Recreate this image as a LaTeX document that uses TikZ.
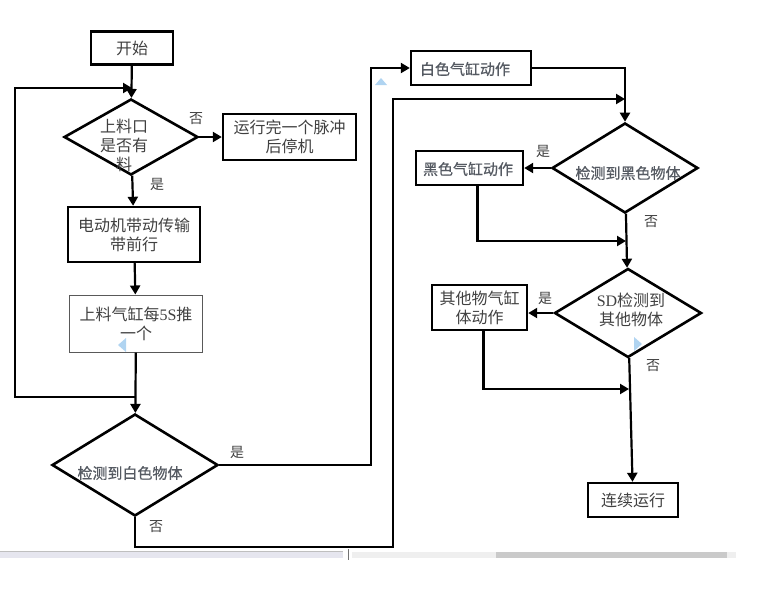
\documentclass[tikz,border=0pt]{standalone}
\usepackage{fontspec}
\newfontfamily\cjk{Noto Sans CJK SC}
\newfontfamily\cjkm[FakeBold=0.8]{Noto Sans CJK SC}
\newfontfamily\lat{Liberation Serif}
\usetikzlibrary{shapes.geometric,arrows.meta}
\definecolor{txtgray}{HTML}{404040}
\definecolor{boldgray}{HTML}{555A62}
\definecolor{blipblue}{HTML}{B0D4F1}
\definecolor{barlav}{HTML}{E6E6EF}
\definecolor{barlight}{HTML}{EFEFEF}
\definecolor{bardark}{HTML}{CACACA}

\tikzset{
	box/.style={draw=black, line width=2.4pt, rectangle, inner sep=0pt, align=center,
		font=\cjk\fontsize{16}{19}\selectfont, text=txtgray},
	thinbox/.style={box, draw=black!65, line width=1pt},
	decision/.style={draw=black, line width=2.6pt, diamond, inner sep=0pt},
	dtext/.style={inner sep=0pt, align=center, font=\cjk\fontsize{16}{19}\selectfont, text=txtgray},
	btext/.style={inner sep=0pt, font=\cjkm\fontsize{15}{17}\selectfont, text=boldgray},
	lbl/.style={inner sep=0pt, font=\cjk\fontsize{14}{14}\selectfont, text=txtgray},
	conn/.style={line width=2.2pt},
	arr/.style={conn, -{Triangle[length=9pt,width=10pt]}},
	blip/.style={fill=blipblue}
}

\begin{document}
\begin{tikzpicture}[x=1pt,y=-1pt]
	\useasboundingbox (0,0) rectangle (759,611);
	% left column
	\node[box, minimum width=82, minimum height=33] (start) at (132,48) {开始};
	\node[decision, minimum width=134, minimum height=76] (d1) at (131,137) {};
	\node[dtext] (d1t) at (124,145) {上料口\\是否有\\料};
	\node[box, minimum width=133, minimum height=46] (stop) at (289.5,137) {运行完一个脉冲\\后停机};
	\node[box, minimum width=132, minimum height=55] (belt) at (134,234.5) {电动机带动传输\\带前行};
	\node[thinbox, minimum width=133, minimum height=57] (push) at (136,323.5) {上料气缸每{\lat 5S}推\\一个};
	\node[decision, minimum width=166, minimum height=102] (d2) at (135,465) {};
	\node[btext] (d2t) at (130,473) {检测到白色物体};
	% right column
	\node[box, minimum width=120, minimum height=34] (wbox) at (471,68) {};
	\node[btext] (wboxt) at (465,69) {白色气缸动作};
	\node[decision, minimum width=146, minimum height=90] (d3) at (625,168) {};
	\node[btext] (d3t) at (628,173) {检测到黑色物体};
	\node[box, minimum width=107, minimum height=34] (bbox) at (469.5,168) {};
	\node[btext] (bboxt) at (468,169) {黑色气缸动作};
	\node[decision, minimum width=147, minimum height=89] (d4) at (628,313) {};
	\node[dtext] (d4t) at (631,310) {{\lat SD}检测到\\其他物体};
	\node[box, minimum width=95, minimum height=45] (obox) at (479.5,307.5) {其他物气缸\\体动作};
	\node[box, minimum width=90, minimum height=34] (cont) at (633,500) {连续运行};

	% yes / no labels
	\node[lbl] (n1) at (196,119) {否};
	\node[lbl] (y1) at (157,184) {是};
	\node[lbl] (y2) at (237,452) {是};
	\node[lbl] (n2) at (156,527) {否};
	\node[lbl] (y3) at (543,151) {是};
	\node[lbl] (n3) at (651,222) {否};
	\node[lbl] (y4) at (545,298) {是};
	\node[lbl] (n4) at (653,366) {否};

	% joints
	\coordinate (j1) at (136,397);
	\coordinate (j2) at (15,88);
	\coordinate (j3) at (132,88);
	\coordinate (wj) at (371,68);
	\coordinate (bj1) at (393,547);
	\coordinate (bj2) at (393,99);
	\coordinate (bj3) at (625,99);
	\coordinate (j5) at (626,241);
	\coordinate (j6) at (629,389);

	% connectors
	\draw[arr] (start) -- (d1);
	\draw[arr] (d1) -- (stop);
	\draw[arr] (d1) -- (belt);
	\draw[arr] (belt) -- (push);
	\draw[arr] (push) -- (d2);
	\draw[arr] (j1) -| (j2) -- (j3);
	\draw[arr] (d2.east) -| (wj) -- (wbox.west);
	\draw[arr] (d2.south) |- (bj1) -- (bj2) -- (bj3);
	\draw[arr] (wbox.east) -| (d3.north);
	\draw[arr] (d3.west) -- (bbox.east);
	\draw[arr] ([xshift=8pt]bbox.south) |- (j5);
	\draw[arr] (d3) -- (d4);
	\draw[arr] (d4.west) -- (d4.west -| obox.east);
	\draw[arr] ([xshift=4pt]obox.south) |- (j6);
	\draw[arr] (d4) -- (cont);

	% small blue marks
	\fill[blip] (118,345) -- (126,338) -- (126,352) -- cycle;
	\fill[blip] (381,78) -- (375,85) -- (387,85) -- cycle;
	\fill[blip] (642,344) -- (634,337) -- (634,351) -- cycle;

	% bar at the bottom
	\fill[barlav] (0,551) rectangle (343,558);
	\draw[black!25, line width=0.8pt] (0,551) -- (343,551);
	\draw[black!55, line width=0.8pt] (348,549) -- (348,560);
	\fill[barlight] (352,552) rectangle (736,558);
	\fill[bardark] (496,552) rectangle (727,558);
\end{tikzpicture}
\end{document}
